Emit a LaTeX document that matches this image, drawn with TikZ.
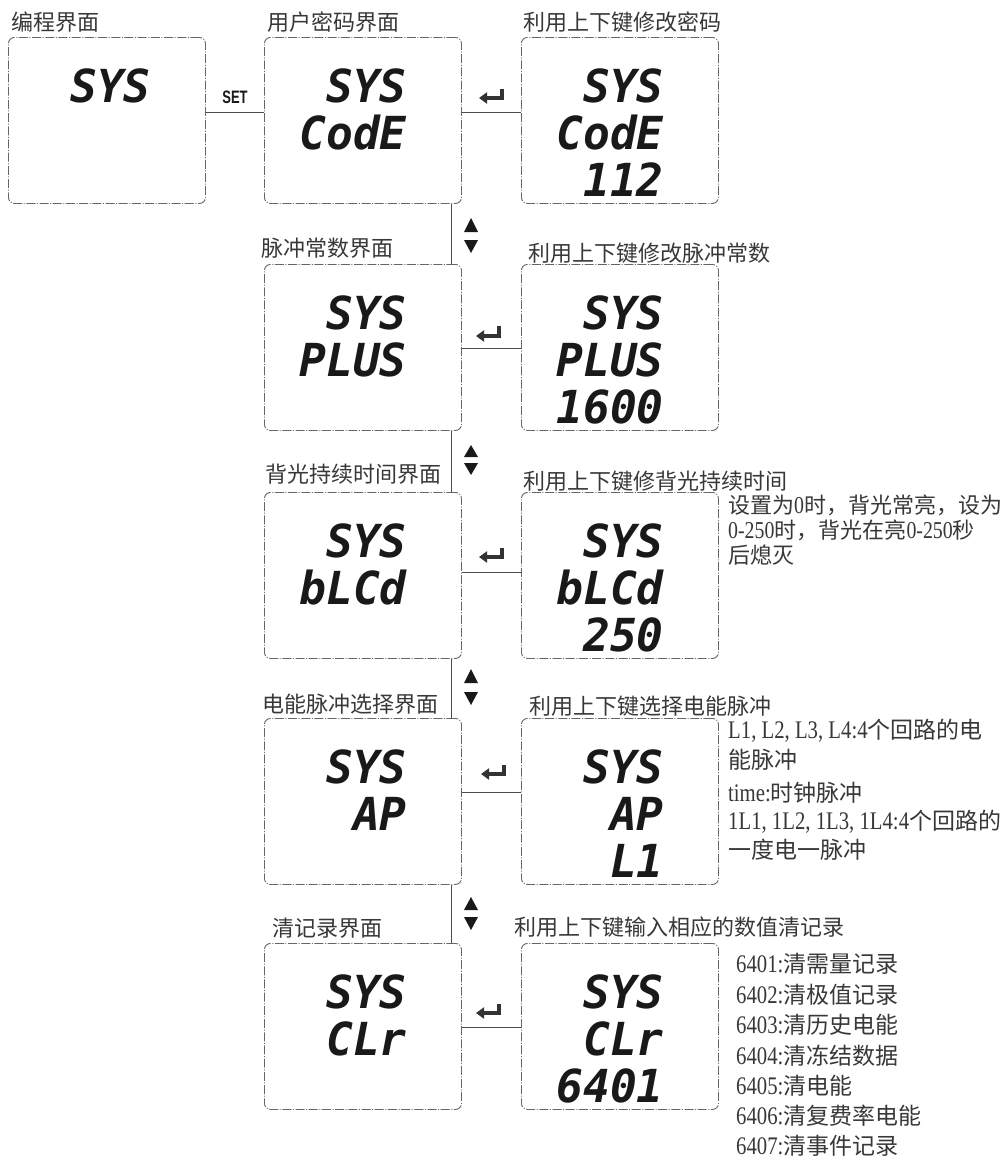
\documentclass[tikz,border=0pt]{standalone}
\usepackage{fontspec}
\setmainfont{Liberation Serif}
\newfontfamily\cjk{Noto Sans CJK SC}
\newfontfamily\latn{Liberation Serif}[FakeStretch=0.82,Scale=1.1]
\newfontfamily\segfont{DejaVu Sans Mono Bold Oblique}[FakeStretch=0.98]
\newfontfamily\setfnt{Liberation Sans}[FakeStretch=0.72]
\usetikzlibrary{arrows.meta,calc}
\newcommand\Lt[1]{{\latn #1}}
\begin{document}
\begin{tikzpicture}[x=1pt,y=-1pt,
  lcd/.style={draw=black!60, line width=0.9pt,
    dash pattern=on 9pt off 1.6pt on 1pt off 1.6pt,
    rounded corners=6pt, minimum width=197pt, minimum height=166pt,
    inner sep=0pt, anchor=north west},
  seg/.style={font=\segfont\fontsize{45.5}{45.5}\selectfont, text=black!90,
    inner sep=0pt, anchor=base east, text height=34pt, text depth=0pt},
  lbl/.style={font=\cjk\fontsize{22}{22}\selectfont, text=black!78,
    inner sep=0pt, anchor=west},
  notebig/.style={lbl, font=\cjk\fontsize{23}{23}\selectfont},
  link/.style={draw=black!70, line width=1pt},
  enter/.style={draw=black!80, line width=4pt, line join=miter,
    -{Triangle[length=8pt,width=11pt]}},
  updown/.style={fill=black!90},
  setlbl/.style={font=\setfnt\bfseries\fontsize{18}{18}\selectfont,
    inner sep=0pt, text=black!90}
]
\fill[white] (0,0) rectangle (1008,1160);
\useasboundingbox (0,0) rectangle (1008,1160);

% ---------- boxes ----------
\node[lcd] (b11) at (8,37) {};
\node[lcd] (b12) at (264,37) {};
\node[lcd] (b13) at (521,37) {};
\node[lcd] (b21) at (264,264) {};
\node[lcd] (b22) at (521,264) {};
\node[lcd] (b31) at (264,492) {};
\node[lcd] (b32) at (521,492) {};
\node[lcd] (b41) at (264,718) {};
\node[lcd] (b42) at (521,718) {};
\node[lcd] (b51) at (264,943) {};
\node[lcd] (b52) at (521,943) {};

% ---------- display texts ----------
\node[seg] (d11a) at ($(b11.north west)+(143,65)$) {SYS};
\node[seg] (d12a) at ($(b12.north west)+(143,65)$) {SYS};
\node[seg] (d12b) at ($(b12.north west)+(143,112)$) {CodE};
\node[seg] (d13a) at ($(b13.north west)+(143,65)$) {SYS};
\node[seg] (d13b) at ($(b13.north west)+(143,112)$) {CodE};
\node[seg] (d13c) at ($(b13.north west)+(143,159)$) {112};

\node[seg] (d21a) at ($(b21.north west)+(143,65)$) {SYS};
\node[seg] (d21b) at ($(b21.north west)+(143,112)$) {PLUS};
\node[seg] (d22a) at ($(b22.north west)+(143,65)$) {SYS};
\node[seg] (d22b) at ($(b22.north west)+(143,112)$) {PLUS};
\node[seg] (d22c) at ($(b22.north west)+(143,159)$) {1600};

\node[seg] (d31a) at ($(b31.north west)+(143,65)$) {SYS};
\node[seg] (d31b) at ($(b31.north west)+(143,112)$) {bLCd};
\node[seg] (d32a) at ($(b32.north west)+(143,65)$) {SYS};
\node[seg] (d32b) at ($(b32.north west)+(143,112)$) {bLCd};
\node[seg] (d32c) at ($(b32.north west)+(143,159)$) {250};

\node[seg] (d41a) at ($(b41.north west)+(143,65)$) {SYS};
\node[seg] (d41b) at ($(b41.north west)+(143,112)$) {AP};
\node[seg] (d42a) at ($(b42.north west)+(143,65)$) {SYS};
\node[seg] (d42b) at ($(b42.north west)+(143,112)$) {AP};
\node[seg] (d42c) at ($(b42.north west)+(143,159)$) {L1};

\node[seg] (d51a) at ($(b51.north west)+(143,65)$) {SYS};
\node[seg] (d51b) at ($(b51.north west)+(143,112)$) {CLr};
\node[seg] (d52a) at ($(b52.north west)+(143,65)$) {SYS};
\node[seg] (d52b) at ($(b52.north west)+(143,112)$) {CLr};
\node[seg] (d52c) at ($(b52.north west)+(143,159)$) {6401};

% ---------- titles ----------
\node[lbl] (t11) at (11,22) {编程界面};
\node[lbl] (t12) at (267,22) {用户密码界面};
\node[lbl] (t13) at (523,22) {利用上下键修改密码};
\node[lbl] (t21) at (261,248) {脉冲常数界面};
\node[lbl] (t22) at (528,253) {利用上下键修改脉冲常数};
\node[lbl] (t31) at (265,474) {背光持续时间界面};
\node[lbl] (t32) at (523,481) {利用上下键修背光持续时间};
\node[lbl] (t41) at (262,704) {电能脉冲选择界面};
\node[lbl] (t42) at (529,706) {利用上下键选择电能脉冲};
\node[lbl] (t51) at (272,928) {清记录界面};
\node[lbl] (t52) at (514,927) {利用上下键输入相应的数值清记录};

% ---------- notes ----------
\node[lbl] (n31) at (728,505) {设置为\Lt{0}时，背光常亮，设为};
\node[lbl] (n32) at (728,530) {\Lt{0-250}时，背光在亮\Lt{0-250}秒};
\node[lbl] (n33) at (728,555) {后熄灭};

\node[notebig] (n41) at (728,731) {\Lt{L1, L2, L3, L4:4}个回路的电};
\node[notebig] (n42) at (728,760) {能脉冲};
\node[notebig] (n43) at (728,793) {\Lt{time:}时钟脉冲};
\node[notebig] (n44) at (728,822) {\Lt{1L1, 1L2, 1L3, 1L4:4}个回路的};
\node[notebig] (n45) at (728,850) {一度电一脉冲};

\node[notebig] (n51) at (736,964) {\Lt{6401:}清需量记录};
\node[notebig] (n52) at (736,995) {\Lt{6402:}清极值记录};
\node[notebig] (n53) at (736,1025) {\Lt{6403:}清历史电能};
\node[notebig] (n54) at (736,1056) {\Lt{6404:}清冻结数据};
\node[notebig] (n55) at (736,1086) {\Lt{6405:}清电能};
\node[notebig] (n56) at (736,1116) {\Lt{6406:}清复费率电能};
\node[notebig] (n57) at (736,1146) {\Lt{6407:}清事件记录};

% ---------- connectors ----------
\draw[link] ([yshift=8pt]b11.east) -- ([yshift=8pt]b12.west);
\draw[link] ([yshift=8pt]b12.east) -- ([yshift=8pt]b13.west);
\draw[link] ([yshift=-1pt]b21.east) -- ([yshift=-1pt]b22.west);
\draw[link] ([yshift=3pt]b31.east) -- ([yshift=3pt]b32.west);
\draw[link] ([yshift=9pt]b41.east) -- ([yshift=9pt]b42.west);
\draw[link] ([yshift=-1pt]b51.east) -- ([yshift=-1pt]b52.west);

\draw[link] ([xshift=-10pt]b12.south east) -- ([xshift=-10pt]b21.north east);
\draw[link] ([xshift=-10pt]b21.south east) -- ([xshift=-10pt]b31.north east);
\draw[link] ([xshift=-10pt]b31.south east) -- ([xshift=-10pt]b41.north east);
\draw[link] ([xshift=-10pt]b41.south east) -- ([xshift=-10pt]b51.north east);

\node[setlbl] (setkey) at (235,97) {SET};

% ---------- up/down key symbols ----------
\fill[updown] (464,232) -- (478,232) -- (471,218) -- cycle;
\fill[updown] (464,240) -- (478,240) -- (471,253) -- cycle;
\fill[updown] (464,457) -- (478,457) -- (471,445) -- cycle;
\fill[updown] (464,463) -- (478,463) -- (471,475) -- cycle;
\fill[updown] (464,683) -- (478,683) -- (471,669) -- cycle;
\fill[updown] (464,692) -- (478,692) -- (471,705) -- cycle;
\fill[updown] (464,910) -- (478,910) -- (471,897) -- cycle;
\fill[updown] (464,917) -- (478,917) -- (471,930) -- cycle;

% ---------- enter key symbols ----------
\draw[enter] (502,89) -- (502,98) -- (479,98);
\draw[enter] (499,326) -- (499,336) -- (476,336);
\draw[enter] (502,548) -- (502,557) -- (479,557);
\draw[enter] (504,765) -- (504,774) -- (481,774);
\draw[enter] (499,1004) -- (499,1013) -- (476,1013);
\end{tikzpicture}
\end{document}
